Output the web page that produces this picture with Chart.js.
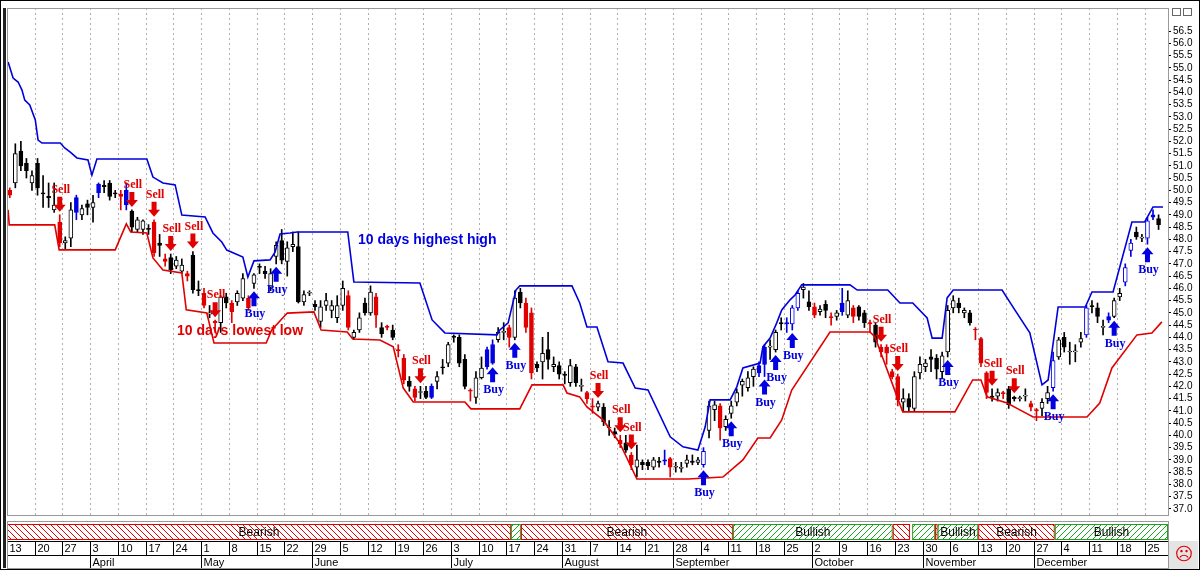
<!DOCTYPE html>
<html>
<head>
<meta charset="utf-8">
<script src="https://cdn.jsdelivr.net/npm/chart.js@4/dist/chart.umd.min.js"></script>
<style>
  html, body { margin: 0; padding: 0; background: #fff; }
  #wrap { width: 1200px; height: 570px; position: relative; }
</style>
</head>
<body>
<div id="wrap"><canvas id="chart" width="1200" height="570"></canvas></div>
<script>
// daily candles, Mar 13 .. end of Dec
var open = [50.0,50.3,51.6,51.1,50.3,51.1,49.9,49.75,49.2,48.7, 47.85,48.05,49.1,49.0,49.45,49.3,49.9,50.2,50.3,49.9,
  49.85,49.4,49.15,48.4,48.4,48.45,48.7,47.85,47.2,47.25, 46.9,46.7,46.6,47.35,45.95,45.8,44.95,44.65,44.6,45.65,
  45.4,45.45,45.6,45.6,46.2,46.9,46.7,46.05,47.3,47.95, 47.1,47.7,47.7,45.45,45.8,45.35,44.65,45.3,45.1,44.8,
  45.3,45.7,44.0,44.3,45.4,45.0,45.65,44.4,44.45,44.3, 43.5,43.15,42.2,41.9,41.75,41.8,41.55,42.2,42.8,42.95,
  44.05,44.0,43.1,41.85,41.55,42.35,42.8,42.95,43.9,44.2, 44.4,44.0,45.85,45.4,45.0,42.9,43.0,43.5,42.8,42.85,
  42.5,42.15,42.8,42.0,41.75,41.2,41.15,41.15,40.3,40.15, 39.8,39.7,39.2,38.7,38.9,38.9,38.7,38.95,38.95,39.05,
  38.7,38.65,38.85,38.95,38.9,38.8,40.2,41.05,41.2,40.35, 40.9,41.35,42.05,41.95,42.4,42.55,42.9,43.6,43.5,44.6,
  44.55,44.55,45.2,45.95,45.45,45.25,45.05,45.35,44.85,44.85, 45.05,44.9,45.2,45.25,45.0,44.6,44.5,43.6,43.6,42.6,
  42.4,41.35,41.5,41.1,42.55,42.8,43.2,43.15,42.6,43.4, 45.2,45.4,45.0,45.0,44.3,43.95,42.55,41.6,41.6,41.75,
  41.9,41.55,41.5,41.6,41.3,41.05,41.1,41.5,41.95,43.2, 44.0,43.4,43.4,43.8,44.1,45.3,45.2,44.4,44.7,44.85,
  45.65,46.25,47.55,48.3,48.05,48.05,48.9,48.85];
var close = [49.8,51.5,51.0,50.8,50.6,50.1,49.85,49.7,49.4,47.85, 47.95,49.2,49.7,49.25,49.3,49.5,50.25,50.15,49.75,49.85,
  49.75,50.0,48.5,48.8,48.75,48.4,47.45,47.75,47.1,46.75, 47.15,46.95,46.5,45.95,45.9,45.3,45.0,44.6,45.65,45.4,
  45.05,45.8,46.4,45.2,46.55,46.85,46.6,46.6,47.75,47.15, 47.65,47.8,45.45,45.75,45.8,45.25,45.25,45.5,45.3,45.3,
  46.0,44.4,44.2,44.8,45.0,45.85,44.9,44.15,44.4,44.0, 43.45,42.25,42.0,41.55,41.75,41.55,42.0,42.4,42.75,43.7,
  44.0,42.95,42.0,41.8,42.35,42.75,43.5,43.7,44.2,44.2, 44.0,45.6,45.4,44.4,42.55,42.75,43.35,43.1,42.9,42.5,
  42.45,42.85,42.15,42.0,41.5,41.15,41.3,40.55,40.3,40.05, 39.65,39.4,38.8,39.0,38.8,38.75,39.0,38.9,39.0,38.7,
  38.7,38.65,39.0,38.9,39.0,39.35,41.2,41.25,40.3,40.65, 41.2,41.75,42.2,42.35,42.7,42.85,43.6,43.6,44.2,44.55,
  44.6,45.2,45.8,46.05,45.25,44.9,45.15,45.1,44.8,45.0, 45.4,45.5,44.85,44.85,44.6,44.55,43.8,43.4,43.35,42.4,
  41.45,41.5,41.15,42.4,42.9,42.95,43.1,42.7,43.25,45.1, 45.5,45.2,45.1,44.6,44.3,42.95,41.75,41.55,41.75,41.7,
  41.25,41.5,41.5,41.6,41.15,41.0,41.35,41.75,43.05,43.9, 43.6,43.4,43.45,43.95,45.2,45.25,44.85,44.45,44.85,45.5,
  45.8,46.85,47.85,48.1,48.05,48.75,49.0,48.6];
var high = [50.1,51.9,52.0,51.3,50.8,51.3,50.6,50.3,50.3,49.0, 48.1,49.5,49.8,49.4,49.6,49.8,50.3,50.4,50.4,50.0,
  50.0,50.3,49.2,48.9,48.8,48.6,48.8,48.2,47.4,47.4, 47.3,47.2,46.7,47.5,46.3,46.0,45.3,44.7,45.7,45.8,
  45.5,45.9,46.6,45.7,46.6,47.0,46.9,46.8,47.9,48.4, 47.9,48.3,48.3,45.9,45.9,45.5,45.5,45.8,45.5,45.7,
  46.3,45.9,44.3,45.0,45.6,46.1,45.8,44.6,44.5,44.5, 43.7,43.3,42.4,42.0,42.0,42.0,42.1,42.6,43.1,43.8,
  44.1,44.1,43.3,41.9,42.6,43.2,43.6,43.9,44.4,44.6, 44.5,45.9,46.0,45.6,45.2,43.0,44.0,44.2,43.2,43.0,
  42.6,43.1,42.9,42.3,41.8,41.5,41.4,41.3,40.6,40.3, 40.0,40.0,39.3,39.6,39.0,39.0,39.1,39.1,39.4,39.1,
  38.9,38.9,39.2,39.2,39.1,39.5,41.4,41.4,41.3,40.8, 41.4,41.9,42.3,42.6,42.8,43.0,43.7,43.9,44.3,44.8,
  44.8,45.3,45.9,46.2,45.9,45.4,45.3,45.5,45.0,45.1, 46.0,45.9,45.3,45.3,45.1,44.7,44.6,43.7,43.7,42.7,
  42.5,41.9,41.7,42.6,43.2,43.1,43.5,43.3,43.4,45.3, 45.7,45.6,45.2,45.1,44.4,44.0,42.6,41.9,41.9,41.8,
  42.0,41.6,41.6,41.9,41.4,41.1,41.5,42.0,43.4,44.0, 44.2,43.8,43.7,44.2,45.3,45.5,45.4,44.7,45.0,45.6,
  46.0,47.0,48.0,48.5,48.2,48.9,49.2,49.0];
var low = [49.7,50.1,50.8,50.5,50.0,49.8,49.3,49.3,49.1,47.7, 47.6,47.7,48.8,48.8,49.0,48.7,49.7,49.9,49.6,49.7,
  49.2,49.2,48.3,48.3,48.2,48.2,47.3,47.3,46.9,46.6, 46.8,46.6,46.3,45.8,45.7,45.2,44.8,44.2,44.2,45.2,
  44.6,45.3,45.5,45.1,46.0,46.6,46.4,45.9,47.0,47.0, 46.5,47.5,45.4,45.3,45.7,45.1,44.4,45.1,44.8,44.6,
  45.1,44.3,43.9,44.2,44.9,44.9,44.4,44.0,44.3,43.9, 43.2,42.1,41.8,41.4,41.5,41.5,41.5,41.9,42.5,42.8,
  43.8,42.8,41.9,41.4,41.3,42.3,42.7,42.9,43.8,43.9, 43.6,43.9,45.2,44.2,42.3,42.6,42.3,42.7,42.6,42.3,
  42.1,42.0,42.0,41.8,41.3,40.9,41.0,40.4,40.0,39.9, 39.5,39.3,38.6,38.3,38.6,38.6,38.6,38.7,38.8,38.3,
  38.5,38.5,38.7,38.8,38.8,38.7,39.9,40.6,39.8,40.2, 40.7,41.2,41.6,41.8,42.0,42.4,42.4,43.1,43.4,44.3,
  44.2,44.3,45.1,45.6,45.1,44.8,44.9,44.8,44.5,44.7, 44.9,44.8,44.6,44.7,44.4,44.2,43.6,43.2,42.9,42.3,
  41.2,41.0,41.0,41.0,42.3,42.6,42.6,42.3,42.3,43.2, 45.0,45.0,44.8,44.5,43.9,42.8,41.5,41.4,41.4,41.5,
  41.1,41.4,41.4,41.4,41.0,40.6,40.8,41.3,41.8,43.1, 43.4,42.9,43.0,43.6,44.0,45.0,44.6,44.1,44.6,44.8,
  45.5,46.1,47.3,48.0,47.9,47.8,48.8,48.4];

// candles drawn in signal colours
var redDays = [0,9,20,26,28,32,35,37,40,43,61,66,68,70,71,73,83,90,93,94,104,105,110,112,119,128,145,148,152,155,157,158,159,160,174,175,176,179,184,185];
var blueDays = [12,16,21,76,86,87,118,135,136,140,150,198,206];
var blueHollowDays = [125,141,142,188,194,201,202,205];

var sellDays = [9,22,26,29,33,37,74,106,110,112,157,160,177,181];
var buyDays = [44,48,87,91,125,130,136,138,141,169,188,199,205];

// 10 days highest high / lowest low, read as breakpoints (day index, price)
var hhX = [-0.3,0.6,1.5,2.2,2.7,3.6,4.6,5.1,5.8,9.1,9.9,10.9,12.1,14.1,14.8,15.7,24.7,25.8,27.6,29.8,31.0,35.2,36.6,38.2,39.1,42.0,42.9,44.0,46.9,47.8,48.7,50.5,51.8,60.9,62.0,73.9,76.1,78.4,87.8,88.3,89.8,91.2,91.9,101.3,102.7,104.0,105.8,107.8,110.5,112.7,115.0,119.0,121.3,124.0,125.3,126.2,129.8,131.0,132.1,135.2,135.7,137.0,138.2,139.1,140.6,141.5,142.7,151.4,152.7,158.2,160.4,162.7,165.3,166.2,168.0,168.9,170.0,178.8,181.1,183.8,186.0,187.1,188.9,193.8,195.0,198.8,202.2,204.5,206.0,207.8];
var hhY = [55.24,54.58,54.42,54.09,53.68,53.48,52.87,52.05,51.93,51.93,51.73,51.56,51.32,51.24,50.62,51.28,51.28,50.54,50.3,50.22,48.99,48.91,48.26,47.89,47.56,47.28,46.46,47.12,47.16,47.48,48.22,48.26,48.3,48.3,46.26,46.22,44.71,44.18,44.1,44.3,44.59,45.93,46.1,46.1,45.4,44.42,44.42,43.0,42.95,41.93,41.85,39.94,39.53,39.4,40.34,41.45,41.45,41.98,42.75,42.95,43.61,43.97,44.59,45.12,45.53,45.73,46.14,46.14,45.93,45.93,45.4,45.4,44.79,43.97,43.97,45.61,45.93,45.93,45.12,44.18,42.06,42.26,45.24,45.24,45.85,45.85,48.71,48.71,49.32,49.32];
var llX = [-0.3,-0.1,8.1,8.9,19.0,21.0,21.8,24.7,25.8,27.6,31.0,31.8,35.5,36.8,46.2,47.2,50.0,54.8,56.1,60.8,61.8,66.7,69.1,70.9,72.7,82.0,83.1,91.9,94.1,99.7,100.4,102.7,104.0,106.9,109.9,113.0,122.2,128.5,132.1,134.8,137.0,139.1,140.9,147.8,155.0,155.9,160.9,170.3,173.5,175.0,176.1,179.7,182.0,184.4,194.1,196.4,198.6,203.1,205.8,207.6];
var llY = [49.2,48.59,48.59,47.57,47.57,48.63,48.3,48.26,47.24,46.75,46.63,45.12,44.99,43.77,43.77,44.3,44.99,45.04,44.3,44.22,43.93,43.89,43.61,41.93,41.36,41.36,41.08,41.08,42.06,42.06,41.73,41.57,41.16,40.63,39.69,38.22,38.22,38.3,39.0,39.89,39.89,40.63,41.85,44.22,44.22,44.02,40.96,40.96,42.26,42.26,41.57,41.32,41.04,40.75,40.75,41.32,42.75,44.1,44.18,44.63];

// trend band under the chart (day index ranges)
var regimeFrom = [-0.5,90.3,92.1,130.3,159.1,162.6,166.7,167.2,174.5,188.3];
var regimeTo = [90.3,92.1,130.3,159.1,162.2,166.7,167.2,174.5,188.3,208.7];
var regimeBull = [false,true,false,true,false,true,false,true,false,true];
var regimeText = ['Bearish','','Bearish','Bullish','','','','Bullish','Bearish','Bullish'];

var monthNames = ['January','February','March','April','May','June','July','August','September','October','November','December'];

var RED = '#e00000', BLUE = '#0000e0';

function kindOf(i) {
    if (redDays.indexOf(i) >= 0) return 'r';
    if (blueDays.indexOf(i) >= 0) return 'b';
    if (blueHollowDays.indexOf(i) >= 0) return 'B';
    return close[i] >= open[i] ? 'w' : 'k';
}
var fills = { r: RED, b: BLUE, B: '#ffffff', w: '#ffffff', k: '#000000' };
var lines = { r: RED, b: BLUE, B: BLUE, w: '#000000', k: '#000000' };

var wickData = [], bodyData = [], wickCol = [], bodyFill = [], bodyLine = [];
for (var i = 0; i < open.length; i++) {
    var k = kindOf(i);
    wickData.push({ x: i, y: [low[i], high[i]] });
    bodyData.push({ x: i, y: [open[i], close[i]] });
    wickCol.push(k == 'w' || k == 'k' ? '#000000' : lines[k]);
    bodyFill.push(fills[k]);
    bodyLine.push(lines[k]);
}
var hhData = hhX.map(function (x, j) { return { x: x, y: hhY[j] }; });
var llData = llX.map(function (x, j) { return { x: x, y: llY[j] }; });

function hatch(color) {
    var c = document.createElement('canvas');
    c.width = 6; c.height = 6;
    var g = c.getContext('2d');
    g.fillStyle = '#fff'; g.fillRect(0, 0, 6, 6);
    g.strokeStyle = color; g.lineWidth = 1;
    g.beginPath();
    if (color == RED) { g.moveTo(0, 0); g.lineTo(6, 6); g.moveTo(-3, 3); g.lineTo(3, 9); g.moveTo(3, -3); g.lineTo(9, 3); }
    else { g.moveTo(0, 6); g.lineTo(6, 0); g.moveTo(-3, 3); g.lineTo(3, -3); g.moveTo(3, 9); g.lineTo(9, 3); }
    g.stroke();
    return c;
}

function arrow(ctx, x, tip, down, color) {
    var d = down ? -1 : 1;
    ctx.fillStyle = color;
    ctx.beginPath();
    ctx.moveTo(x, tip);
    ctx.lineTo(x - 6, tip + d * 7);
    ctx.lineTo(x - 2.5, tip + d * 7);
    ctx.lineTo(x - 2.5, tip + d * 15);
    ctx.lineTo(x + 2.5, tip + d * 15);
    ctx.lineTo(x + 2.5, tip + d * 7);
    ctx.lineTo(x + 6, tip + d * 7);
    ctx.closePath();
    ctx.fill();
}

var extras = {
    id: 'extras',
    beforeDatasetsDraw: function (chart) {
        // dotted weekly grid
        var ctx = chart.ctx, xs = chart.scales.x, area = chart.chartArea;
        ctx.save();
        ctx.strokeStyle = '#b0b0b0';
        ctx.lineWidth = 1;
        ctx.setLineDash([2, 3]);
        for (var w = 1; w < 42; w++) {
            var x = Math.round(xs.getPixelForValue(w * 5 - 0.5)) + 0.5;
            ctx.beginPath(); ctx.moveTo(x, area.top); ctx.lineTo(x, area.bottom); ctx.stroke();
        }
        ctx.restore();
    },
    afterDatasetsDraw: function (chart) {
        var ctx = chart.ctx, xs = chart.scales.x, ys = chart.scales.y;
        ctx.save();
        ctx.font = 'bold 12px "Liberation Serif"';
        ctx.textAlign = 'center';
        sellDays.forEach(function (i) {
            var x = xs.getPixelForValue(i), tip = ys.getPixelForValue(high[i]) - 3;
            arrow(ctx, x, tip, true, RED);
            ctx.fillStyle = RED;
            ctx.textBaseline = 'bottom';
            ctx.fillText('Sell', x + 1, tip - 16);
        });
        buyDays.forEach(function (i) {
            var x = xs.getPixelForValue(i), tip = ys.getPixelForValue(low[i]) + 3;
            arrow(ctx, x, tip, false, BLUE);
            ctx.fillStyle = BLUE;
            ctx.textBaseline = 'top';
            ctx.fillText('Buy', x + 1, tip + 17);
        });
        ctx.font = 'bold 14px "Liberation Sans"';
        ctx.textAlign = 'left';
        ctx.textBaseline = 'middle';
        ctx.fillStyle = BLUE;
        ctx.fillText('10 days highest high', 358, 240);
        ctx.fillStyle = RED;
        ctx.fillText('10 days lowest low', 177, 331);
        ctx.restore();
    },
    afterDraw: function (chart) {
        var ctx = chart.ctx, xs = chart.scales.x, area = chart.chartArea;
        ctx.save();
        // trend band
        var bandTop = 524, bandBot = 540;
        var pats = { bear: ctx.createPattern(hatch(RED), 'repeat'), bull: ctx.createPattern(hatch('#20a020'), 'repeat') };
        for (var r = 0; r < regimeFrom.length; r++) {
            var x0 = xs.getPixelForValue(regimeFrom[r]), x1 = xs.getPixelForValue(regimeTo[r]);
            ctx.fillStyle = regimeBull[r] ? pats.bull : pats.bear;
            ctx.fillRect(x0, bandTop, x1 - x0, bandBot - bandTop);
            ctx.strokeStyle = regimeBull[r] ? '#20a020' : RED;
            ctx.lineWidth = 1;
            ctx.strokeRect(x0 + 0.5, bandTop + 0.5, x1 - x0 - 1, bandBot - bandTop - 1);
            if (regimeText[r]) {
                ctx.font = '12px "Liberation Sans"';
                ctx.textAlign = 'center';
                ctx.textBaseline = 'middle';
                ctx.fillStyle = '#000';
                ctx.fillText(regimeText[r], (x0 + x1) / 2, (bandTop + bandBot) / 2 + 1);
            }
        }
        // date rows
        var rowTop = 541, rowMid = 555, rowBot = 568;
        ctx.strokeStyle = '#000';
        ctx.beginPath();
        ctx.moveTo(area.left, rowTop + 0.5); ctx.lineTo(area.right, rowTop + 0.5);
        ctx.moveTo(area.left, rowMid + 0.5); ctx.lineTo(area.right, rowMid + 0.5);
        ctx.stroke();
        ctx.font = '11px "Liberation Sans"';
        ctx.textAlign = 'left';
        ctx.textBaseline = 'middle';
        ctx.fillStyle = '#000';
        var start = new Date(2017, 2, 13), prevMonth = -1;
        for (var w = 0; w < 42; w++) {
            var d = new Date(start.getTime() + w * 7 * 86400000);
            var fri = new Date(d.getTime() + 4 * 86400000);
            var x = Math.round(xs.getPixelForValue(w * 5 - 0.5)) + 0.5;
            ctx.beginPath(); ctx.moveTo(x, rowTop); ctx.lineTo(x, rowMid); ctx.stroke();
            ctx.fillText(String(d.getDate()), x + 2, (rowTop + rowMid) / 2 + 1);
            if (prevMonth >= 0 && fri.getMonth() != prevMonth) {
                ctx.beginPath(); ctx.moveTo(x, rowMid); ctx.lineTo(x, rowBot); ctx.stroke();
                ctx.fillText(monthNames[fri.getMonth()], x + 2, (rowMid + rowBot) / 2 + 1);
            }
            prevMonth = fri.getMonth();
        }
        // corner box
        ctx.fillStyle = '#e4e4e4';
        ctx.fillRect(area.right + 1, rowTop, 1200 - area.right - 3, rowBot - rowTop + 1);
        ctx.fillStyle = RED;
        ctx.font = '18px "DejaVu Sans"';
        ctx.textAlign = 'center';
        ctx.fillText('\u2639', (area.right + 1200) / 2, (rowTop + rowBot) / 2 + 1);
        // frame
        ctx.strokeStyle = '#999';
        ctx.strokeRect(area.left + 0.5, area.top + 0.5, area.right - area.left, area.bottom - area.top);
        ctx.strokeRect(area.left + 0.5, bandTop - 2.5, area.right - area.left, rowBot - bandTop + 3);
        ctx.fillStyle = '#222';
        ctx.fillRect(3, area.top, 3, rowBot - area.top);
        ctx.strokeStyle = '#000';
        ctx.strokeRect(0.5, 0.5, 1199, 569);
        ctx.strokeStyle = '#666';
        ctx.strokeRect(1172.5, 8.5, 8, 7);
        ctx.strokeRect(1183.5, 8.5, 8, 7);
        ctx.restore();
    }
};

new Chart(document.getElementById('chart'), {
    data: {
        datasets: [
            { type: 'bar', data: wickData, backgroundColor: wickCol, barThickness: 1, grouped: false, order: 3 },
            { type: 'bar', data: bodyData, backgroundColor: bodyFill, borderColor: bodyLine, borderWidth: 1,
              borderSkipped: false, minBarLength: 1, barThickness: 4, grouped: false, order: 2 },
            { type: 'line', data: hhData, borderColor: '#0000dd', borderWidth: 1.6, pointRadius: 0, tension: 0, order: 1 },
            { type: 'line', data: llData, borderColor: '#e00000', borderWidth: 1.6, pointRadius: 0, tension: 0, order: 1 }
        ]
    },
    options: {
        responsive: false,
        animation: false,
        layout: { padding: { left: 7, top: 8, bottom: 47, right: 0 } },
        plugins: { legend: { display: false }, tooltip: { enabled: false } },
        scales: {
            x: {
                type: 'linear', min: -0.5, max: 208.7, offset: false,
                ticks: { display: false },
                grid: { display: false },
                border: { display: false }
            },
            y: {
                position: 'right', min: 36.75, max: 57.44,
                afterBuildTicks: function (s) {
                    var t = [];
                    for (var v = 37; v <= 56.5001; v += 0.5) t.push({ value: Math.round(v * 10) / 10 });
                    s.ticks = t;
                },
                afterFit: function (s) { s.width = 32; },
                ticks: { color: '#000', font: { size: 10, family: '"Liberation Sans"' }, padding: 2, autoSkip: false,
                         callback: function (v) { return v.toFixed(1); } },
                grid: { drawOnChartArea: false, tickLength: 3, color: '#000' },
                border: { color: '#999' }
            }
        }
    },
    plugins: [extras]
});
</script>
</body>
</html>
